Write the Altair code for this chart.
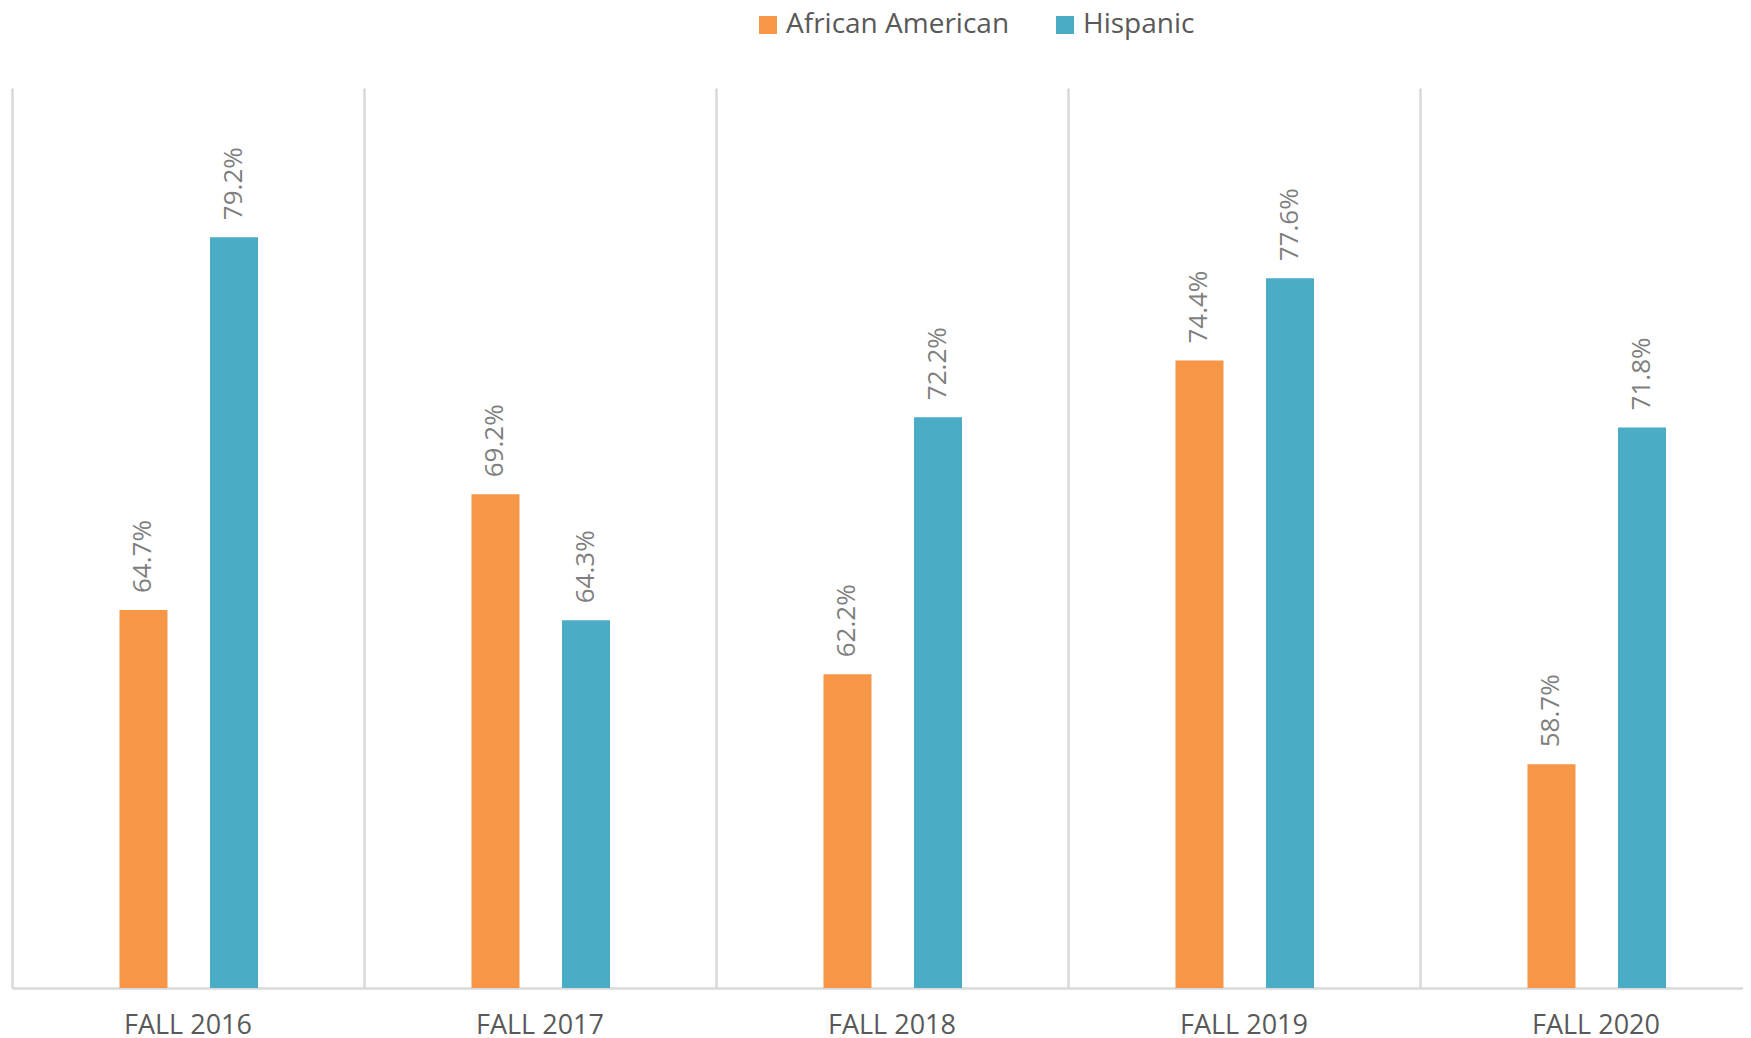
import altair as alt
import pandas as pd

terms = ["FALL 2016", "FALL 2017", "FALL 2018", "FALL 2019", "FALL 2020"]
groups = ["African American", "Hispanic"]
african_american = [64.7, 69.2, 62.2, 74.4, 58.7]
hispanic = [79.2, 64.3, 72.2, 77.6, 71.8]
colors = ["#F79646", "#4BACC6"]

rows = []
for t, a, h in zip(terms, african_american, hispanic):
    rows.append({"term": t, "group": groups[0], "value": a})
    rows.append({"term": t, "group": groups[1], "value": h})
df = pd.DataFrame(rows)
df["label"] = df["value"].map(lambda v: f"{v:.1f}%")

x = alt.X(
    "term:N",
    sort=terms,
    scale=alt.Scale(range=[0, 1760], paddingInner=0, paddingOuter=0),
    axis=alt.Axis(
        title=None, labelAngle=0, ticks=False, grid=True, bandPosition=0,
        gridColor="#d9d9d9", gridWidth=2.5, domainColor="#d9d9d9", domainWidth=2.5,
        labelFont="Open Sans", labelFontSize=27, labelColor="#595959", labelPadding=24,
    ),
)
xo = alt.XOffset(
    "group:N", sort=groups,
    scale=alt.Scale(domain=groups, range=[107.5, 246], paddingInner=0.47, paddingOuter=0),
)
y = alt.Y("value:Q", scale=alt.Scale(domain=[50, 85], nice=False, zero=False), axis=None)

bars = alt.Chart(df).mark_bar().encode(
    x=x,
    xOffset=xo,
    y=y,
    y2=alt.datum(50),
    color=alt.Color(
        "group:N",
        sort=groups,
        scale=alt.Scale(domain=groups, range=colors),
        legend=alt.Legend(
            title=None, orient="none", legendX=742, legendY=-77, direction="horizontal",
            symbolType="square", symbolSize=324, symbolStrokeWidth=0,
            labelFont="Open Sans", labelFontSize=28, labelColor="#595959",
            labelOffset=4, columnPadding=41, padding=0, labelLimit=500,
        ),
    ),
)

labels = alt.Chart(df).mark_text(
    angle=270, align="left", baseline="middle", dx=17,
    font="Open Sans", fontSize=26, color="#7f7f7f",
).encode(x=x, xOffset=xo, y=y, text="label:N")

chart = (
    alt.layer(bars, labels)
    .properties(
        width=1731, height=900,
        padding={"left": 4, "top": 80, "right": 0, "bottom": 52},
        autosize=alt.AutoSizeParams(type="none"),
        background="white",
    )
    .configure_view(stroke=None)
)

chart.save("out.html", embed_options={"renderer": "svg", "actions": False})
